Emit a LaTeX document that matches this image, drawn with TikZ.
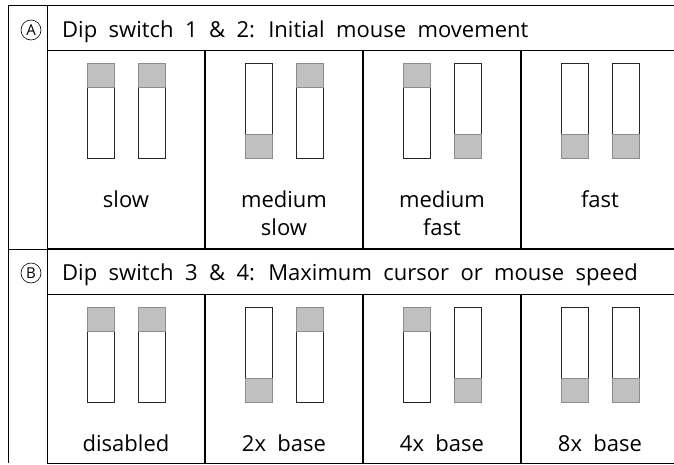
\documentclass[tikz,border=0pt]{standalone}
\usepackage{fontspec}
\setmainfont{Open Sans}[WordSpace=2]
\usetikzlibrary{positioning}
\definecolor{knobgray}{HTML}{C0C0C0}

\begin{document}
\begin{tikzpicture}[x=1pt, y=-1pt,
  thinline/.style={line width=1pt, black},
  thickline/.style={line width=2.4pt, black},
  swbody/.style={draw=black!85, line width=0.8pt, fill=white,
    minimum width=27pt, minimum height=95pt, inner sep=0pt},
  knob/.style={draw=black!45, line width=0.8pt, fill=knobgray,
    minimum width=27pt, minimum height=24pt, inner sep=0pt},
  txt/.style={font=\fontsize{22}{28}\selectfont, align=center, inner sep=0pt},
  circlemark/.style={circle, draw, line width=0.6pt, minimum size=20pt,
    inner sep=0pt, font=\fontsize{15}{15}\selectfont}]
  \useasboundingbox (0,0) rectangle (674,464);

  % table lines
  \draw[thinline] (674,5) -- (8,5) -- (8,463);
  \draw[thinline] (47,5) -- (47,463) -- (674,463);
  \draw[thinline] (47,50) -- (674,50);
  \draw[thinline] (47,294) -- (674,294);
  \draw[thinline] (8,249) -- (47,249);
  \draw[thickline] (47,249) -- (674,249);
  \draw[thickline] (205,50) -- (205,249) (205,294) -- (205,463);
  \draw[thickline] (363,50) -- (363,249) (363,294) -- (363,463);
  \draw[thickline] (521,50) -- (521,249) (521,294) -- (521,463);

  % headers
  \node[circlemark] (markA) at (31,30) {A};
  \node[txt, anchor=base west] (headA) at (62,37) {Dip switch 1 \& 2: Initial mouse movement};
  \node[circlemark] (markB) at (31,273) {B};
  \node[txt, anchor=base west] (headB) at (62,280) {Dip switch 3 \& 4: Maximum cursor or mouse speed};

  % section A switches
  \node[swbody] (a1l) at (100.5,111) {};
  \node[knob, anchor=north] at (a1l.north) {};
  \node[swbody] (a1r) at (151.5,111) {};
  \node[knob, anchor=north] at (a1r.north) {};
  \node[swbody] (a2l) at (258.5,111) {};
  \node[knob, anchor=south] at (a2l.south) {};
  \node[swbody] (a2r) at (309.5,111) {};
  \node[knob, anchor=north] at (a2r.north) {};
  \node[swbody] (a3l) at (416.5,111) {};
  \node[knob, anchor=north] at (a3l.north) {};
  \node[swbody] (a3r) at (467.5,111) {};
  \node[knob, anchor=south] at (a3r.south) {};
  \node[swbody] (a4l) at (574.5,111) {};
  \node[knob, anchor=south] at (a4l.south) {};
  \node[swbody] (a4r) at (625.5,111) {};
  \node[knob, anchor=south] at (a4r.south) {};

  % section A labels
  \node[txt, anchor=base] (slow) at (126,207) {slow};
  \node[txt, anchor=base] (medslow) at (284,235) {medium\\slow};
  \node[txt, anchor=base] (medfast) at (442,235) {medium\\fast};
  \node[txt, anchor=base] (fast) at (600,207) {fast};

  % section B switches
  \node[swbody] (b1l) at (100.5,355) {};
  \node[knob, anchor=north] at (b1l.north) {};
  \node[swbody] (b1r) at (151.5,355) {};
  \node[knob, anchor=north] at (b1r.north) {};
  \node[swbody] (b2l) at (258.5,355) {};
  \node[knob, anchor=south] at (b2l.south) {};
  \node[swbody] (b2r) at (309.5,355) {};
  \node[knob, anchor=north] at (b2r.north) {};
  \node[swbody] (b3l) at (416.5,355) {};
  \node[knob, anchor=north] at (b3l.north) {};
  \node[swbody] (b3r) at (467.5,355) {};
  \node[knob, anchor=south] at (b3r.south) {};
  \node[swbody] (b4l) at (574.5,355) {};
  \node[knob, anchor=south] at (b4l.south) {};
  \node[swbody] (b4r) at (625.5,355) {};
  \node[knob, anchor=south] at (b4r.south) {};

  % section B labels
  \node[txt, anchor=base] (disabled) at (126,451) {disabled};
  \node[txt, anchor=base] (base2) at (284,451) {2x base};
  \node[txt, anchor=base] (base4) at (442,451) {4x base};
  \node[txt, anchor=base] (base8) at (600,451) {8x base};
\end{tikzpicture}
\end{document}
